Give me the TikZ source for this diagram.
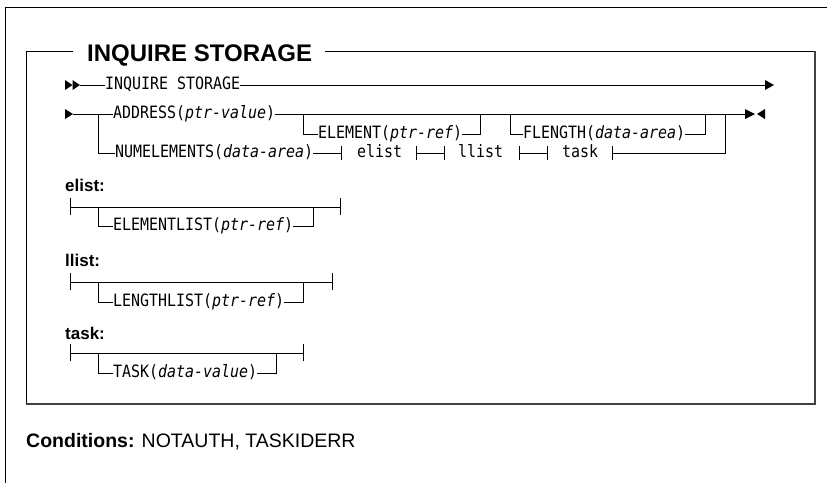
\documentclass[tikz,border=0pt]{standalone}
\usepackage{fontspec}
\setmainfont{Liberation Sans}
\setsansfont{Liberation Sans}
\newfontfamily\railmono{DejaVu Sans Mono}[FakeStretch=0.88]
\begin{document}
\begin{tikzpicture}[x=1pt,y=-1pt,
  rail/.style={line width=0.9pt},
  tri/.style={fill=black},
  kw/.style={font=\railmono\fontsize{17}{17}\selectfont, inner sep=0pt, outer sep=0pt, anchor=west, text height=12pt, text depth=4pt},
  lbl/.style={font=\sffamily\bfseries\fontsize{17}{17}\selectfont, inner sep=0pt, anchor=base west},
  ttl/.style={font=\sffamily\bfseries\fontsize{24}{24}\selectfont, inner sep=0pt, anchor=base west},
  cond/.style={font=\sffamily\fontsize{19.5}{19.5}\selectfont, inner sep=0pt, anchor=base west},
  frame/.style={line width=1pt},
  shadow/.style={line width=1.8pt, draw=black!75}
]
\useasboundingbox (0,0) rectangle (827,483);

% outer frame (partial)
\draw[frame] (827,7) -- (5,7) -- (5,483);
% inner box
\draw[frame] (73,51) -- (26,51) -- (26,404);
\draw[frame] (325,51) -- (815,51);
\draw[shadow] (26,404) -- (815,404) -- (815,51);
\node[ttl] (title) at (87,61) {INQUIRE STORAGE};

% ---------- row 1 ----------
\coordinate (r1a) at (80,85);
\fill[tri] (65,80) -- (72.5,85) -- (65,90) -- cycle;
\fill[tri] (72.5,80) -- (80,85) -- (72.5,90) -- cycle;
\node[kw] (inq) at (105,85) {INQUIRE STORAGE};
\coordinate (r1e) at (765,85);
\draw[rail] (r1a) -- (inq.west);
\draw[rail] (inq.east) -- (r1e);
\fill[tri] (765,80) -- (774,85) -- (765,90) -- cycle;

% ---------- row 2 ----------
\coordinate (r2a) at (73,114);
\fill[tri] (65,109) -- (73,114) -- (65,119) -- cycle;
\coordinate (f1) at (98,114);
\coordinate (f1d) at (98,153);
\node[kw] (addr) at (113,114) {ADDRESS(\itshape ptr-value\upshape)};
\node[kw] (nume) at (115,153) {NUMELEMENTS(\itshape data-area\upshape)};
\draw[rail] (r2a) -- (addr.west);
\draw[rail] (f1) -- (f1d) -- (nume.west);

\coordinate (j1) at (303,114);
\coordinate (j1d) at (303,134);
\coordinate (j2) at (480,114);
\coordinate (j2d) at (480,134);
\coordinate (j3) at (510,114);
\coordinate (j3d) at (510,134);
\coordinate (j4) at (705,114);
\coordinate (j4d) at (705,134);
\coordinate (j5) at (725,114);
\coordinate (j5d) at (725,153);
\coordinate (r2e) at (745,114);
\draw[rail] (addr.east) -- (r2e);
\node[kw] (elem) at (318,134) {ELEMENT(\itshape ptr-ref\upshape)};
\node[kw] (flen) at (523,134) {FLENGTH(\itshape data-area\upshape)};
\draw[rail] (j1) -- (j1d) -- (elem.west);
\draw[rail] (elem.east) -- (j2d) -- (j2);
\draw[rail] (j3) -- (j3d) -- (flen.west);
\draw[rail] (flen.east) -- (j4d) -- (j4);
\fill[tri] (745,109) -- (755,114) -- (745,119) -- cycle;
\fill[tri] (765,109) -- (757,114) -- (765,119) -- cycle;

% fragment references
\coordinate (t1) at (341,153);
\coordinate (t2) at (416,153);
\coordinate (t3) at (444,153);
\coordinate (t4) at (519,153);
\coordinate (t5) at (547,153);
\coordinate (t6) at (612,153);
\node[kw] (relist) at (357,153) {elist};
\node[kw] (rllist) at (458,153) {llist};
\node[kw] (rtask) at (562,153) {task};
\draw[rail] (nume.east) -- (t1);
\draw[rail] (t2) -- (t3);
\draw[rail] (t4) -- (t5);
\draw[rail] (t6) -- (j5d) -- (j5);
\foreach \t in {t1,t2,t3,t4,t5,t6}
  \draw[rail] ([yshift=-7pt]\t) -- ([yshift=7pt]\t);

% ---------- elist ----------
\node[lbl] (lelist) at (65,191) {elist:};
\coordinate (ea) at (70,207);
\coordinate (eb) at (340,207);
\coordinate (ef) at (98,207);
\coordinate (efd) at (98,226);
\coordinate (eg) at (313,207);
\coordinate (egd) at (313,226);
\node[kw] (elst) at (113,226) {ELEMENTLIST(\itshape ptr-ref\upshape)};
\draw[rail] (ea) -- (eb);
\draw[rail] ([yshift=-8pt]ea) -- ([yshift=9pt]ea);
\draw[rail] ([yshift=-8pt]eb) -- ([yshift=9pt]eb);
\draw[rail] (ef) -- (efd) -- (elst.west);
\draw[rail] (elst.east) -- (egd) -- (eg);

% ---------- llist ----------
\node[lbl] (lllist) at (65,266) {llist:};
\coordinate (la) at (70,282);
\coordinate (lb) at (332,282);
\coordinate (lf) at (98,282);
\coordinate (lfd) at (98,302);
\coordinate (lg) at (303,282);
\coordinate (lgd) at (303,302);
\node[kw] (llst) at (113,302) {LENGTHLIST(\itshape ptr-ref\upshape)};
\draw[rail] (la) -- (lb);
\draw[rail] ([yshift=-8pt]la) -- ([yshift=9pt]la);
\draw[rail] ([yshift=-8pt]lb) -- ([yshift=9pt]lb);
\draw[rail] (lf) -- (lfd) -- (llst.west);
\draw[rail] (llst.east) -- (lgd) -- (lg);

% ---------- task ----------
\node[lbl] (ltask) at (65,339) {task:};
\coordinate (ta) at (70,353);
\coordinate (tb) at (303,353);
\coordinate (tf) at (98,353);
\coordinate (tfd) at (98,373);
\coordinate (tg) at (276,353);
\coordinate (tgd) at (276,373);
\node[kw] (tsk) at (113,373) {TASK(\itshape data-value\upshape)};
\draw[rail] (ta) -- (tb);
\draw[rail] ([yshift=-8pt]ta) -- ([yshift=9pt]ta);
\draw[rail] ([yshift=-8pt]tb) -- ([yshift=9pt]tb);
\draw[rail] (tf) -- (tfd) -- (tsk.west);
\draw[rail] (tsk.east) -- (tgd) -- (tg);

% ---------- conditions ----------
\node[cond] (conds) at (26,447) {\bfseries Conditions:\mdseries{} NOTAUTH, TASKIDERR};
\end{tikzpicture}
\end{document}
